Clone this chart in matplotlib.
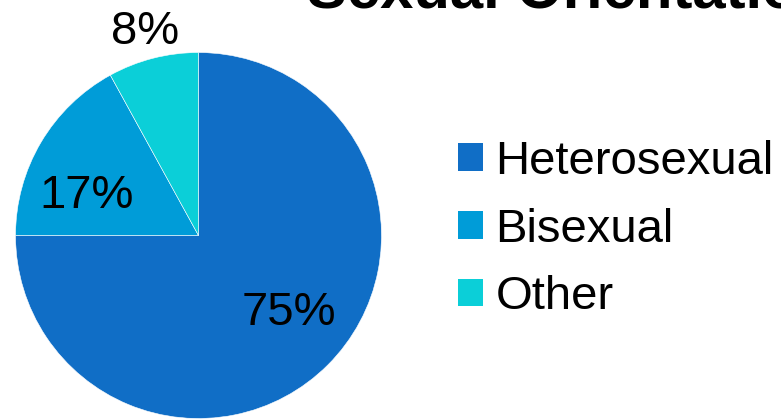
import matplotlib
matplotlib.use("Agg")
import matplotlib.pyplot as plt

# Survey breakdown by sexual orientation
categories = ["Heterosexual", "Bisexual", "Other"]
shares = [75, 17, 8]
colors = ["#106EC6", "#009CD8", "#0BCFD8"]

W, H = 781, 419
plt.rcParams["font.family"] = ["Liberation Sans", "DejaVu Sans"]

fig = plt.figure(figsize=(W / 100, H / 100), dpi=100)
ax = fig.add_axes([0, 0, 1, 1])

cx, cy, r = 198.5, H - 235.5, 183
wedges, _, pct_texts = ax.pie(
    shares,
    colors=colors,
    startangle=90,
    counterclock=False,
    center=(cx, cy),
    radius=r,
    autopct=lambda p: f"{p:.0f}%",
    wedgeprops=dict(edgecolor="white", linewidth=0.4),
    textprops=dict(fontsize=34, color="black"),
    frame=True,
)
ax.set_xlim(0, W)
ax.set_ylim(0, H)
ax.set_aspect("equal")
ax.axis("off")

# percentage label placement (x centre, baseline y from the top)
label_pos = [(289, 325), (87, 208), (145, 44)]
for t, (lx, ly) in zip(pct_texts, label_pos):
    t.set_position((lx, H - ly))
    t.set_ha("center")
    t.set_va("baseline")

leg = ax.legend(
    wedges,
    categories,
    loc="upper left",
    bbox_to_anchor=(458 / W, 1 - 140 / H),
    bbox_transform=fig.transFigure,
    frameon=False,
    fontsize=34,
    handlelength=0.53,
    handleheight=0.53,
    handletextpad=0.26,
    labelspacing=0.5,
    borderpad=0,
    borderaxespad=0,
)
for h in leg.legend_handles:
    h.set_edgecolor("none")

fig.text(307 / W, 1 - 8 / H, "Sexual Orientation", fontsize=43,
         fontweight="bold", ha="left", va="baseline")

fig.savefig("out.png", dpi=100)
